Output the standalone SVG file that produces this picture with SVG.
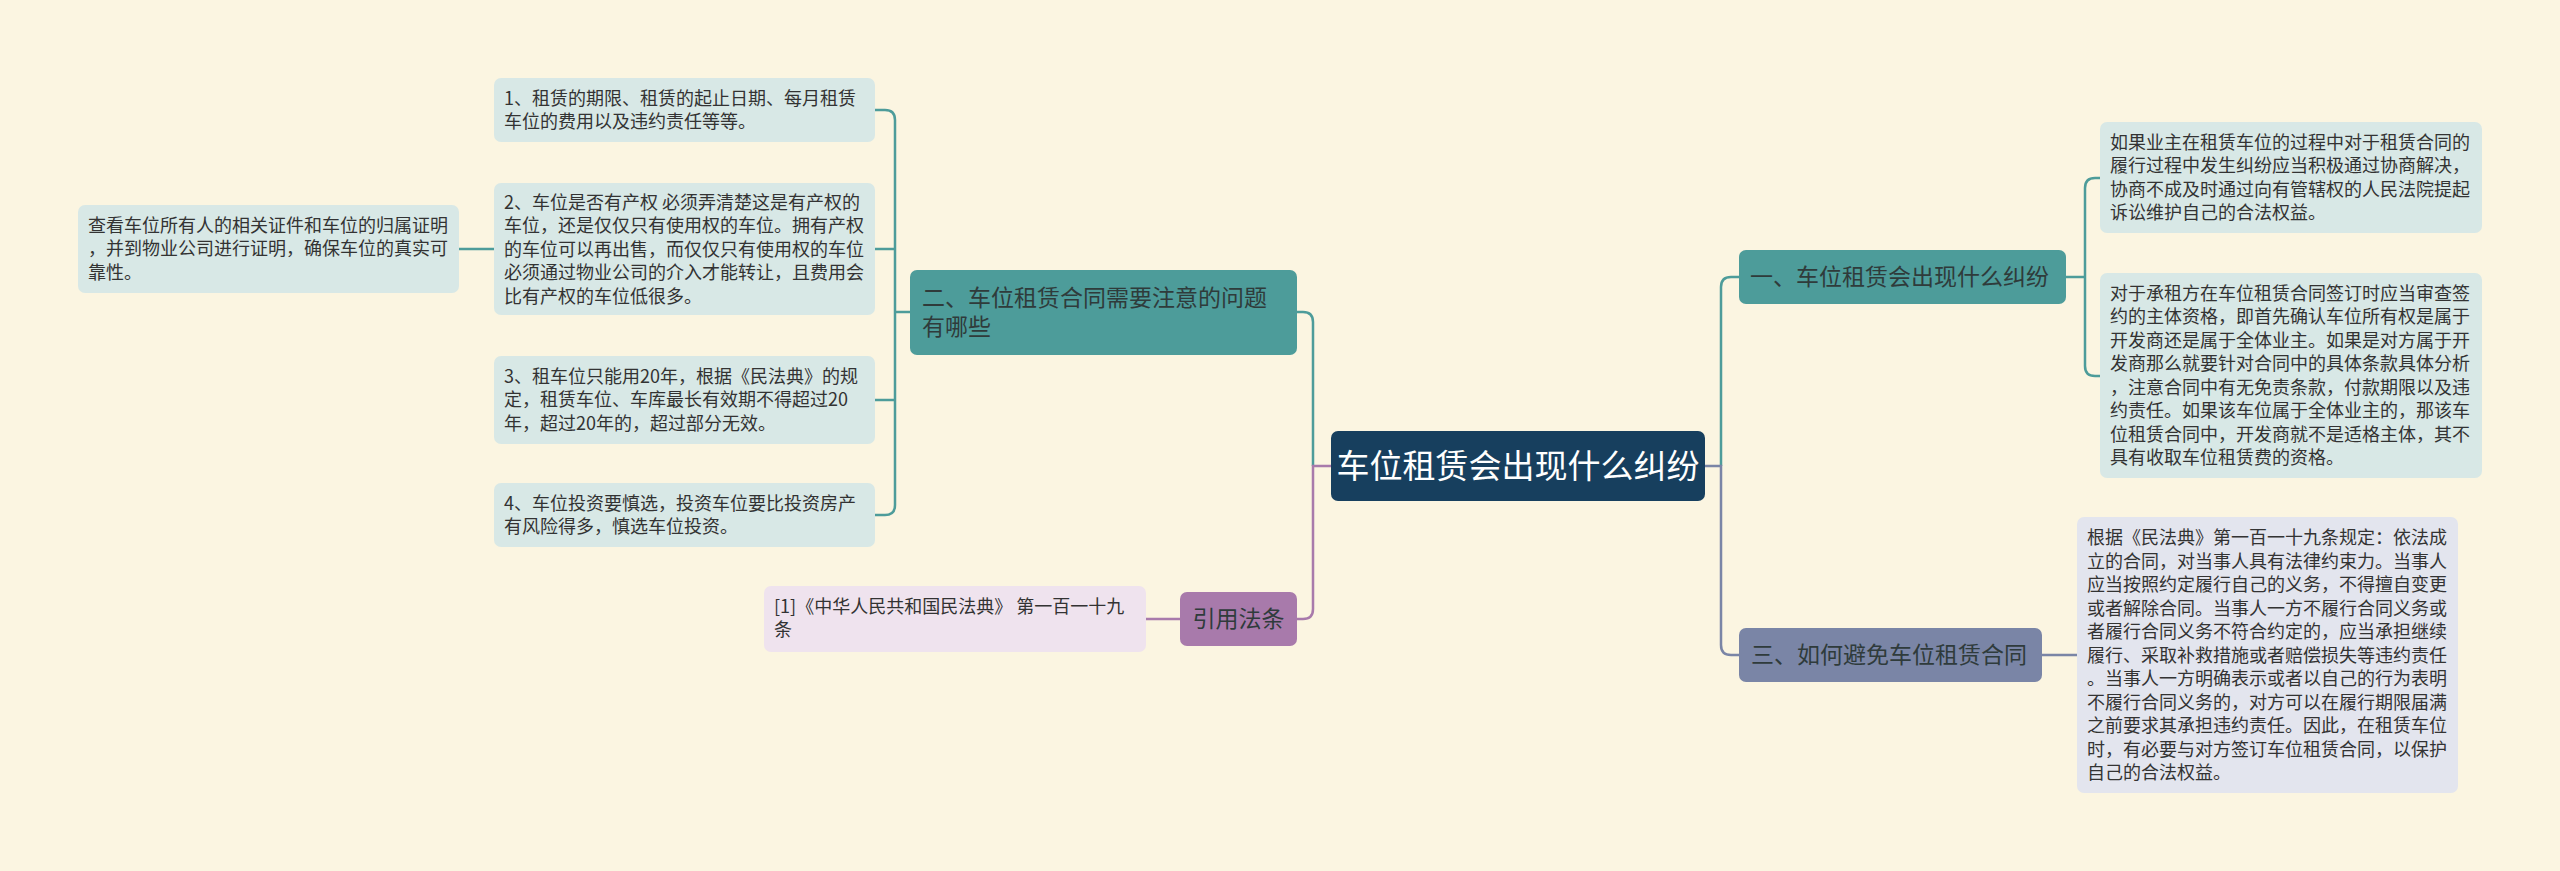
<svg xmlns="http://www.w3.org/2000/svg" width="2560" height="871" viewBox="0 0 2560 871">
<style>
text{font-family:"Noto Sans CJK SC","Noto Sans",sans-serif;white-space:pre;}
.leaf{font-size:18px;fill:#333333;}
.br{font-size:23px;fill:#2f3b3b;}
.root{font-size:33px;fill:#ffffff;}
.ct{fill:none;stroke:#4d9c9a;stroke-width:2.5;}
.cs{fill:none;stroke:#7a85a6;stroke-width:2.5;}
.cp{fill:none;stroke:#a87aab;stroke-width:2.5;}
.lt{fill:#d8e8e6;}
.ls{fill:#e3e5ee;}
.lp{fill:#efe3ee;}
</style>
<rect x="0" y="0" width="2560" height="871" fill="#fbf5e1"/>
<g id="connectors">
<path class="ct" d="M1721,466 V287 Q1721,277 1731,277 H1739"/>
<path class="cs" d="M1705,466 H1721 V645 Q1721,655 1731,655 H1739"/>
<path class="ct" d="M1313,466 V322 Q1313,312 1303,312 H1297"/>
<path class="cp" d="M1331,466 H1313 V609 Q1313,619 1303,619 H1297"/>
<path class="ct" d="M910,312 H895"/>
<path class="ct" d="M875,110 H885 Q895,110 895,120 V505 Q895,515 885,515 H875"/>
<path class="ct" d="M875,249 H895"/>
<path class="ct" d="M875,400 H895"/>
<path class="ct" d="M494,249 H459"/>
<path class="ct" d="M2066,277 H2085"/>
<path class="ct" d="M2100,178 H2095 Q2085,178 2085,188 V366 Q2085,376 2095,376 H2100"/>
<path class="cs" d="M2042,655 H2077"/>
<path class="cp" d="M1180,619 H1146"/>
</g>
<g id="root">
<rect x="1331" y="431" width="374" height="70" rx="7" fill="#173f5e"/>
<text class="root" x="1518" y="478" text-anchor="middle">车位租赁会出现什么纠纷</text>
</g>
<g id="branch1">
<rect x="1739" y="250" width="327" height="54" rx="7" fill="#4d9c9a"/>
<text class="br" x="1750" y="285">一、车位租赁会出现什么纠纷</text>
</g>
<g id="branch3">
<rect x="1739" y="628" width="303" height="54" rx="7" fill="#7a85a6"/>
<text class="br" x="1751" y="663">三、如何避免车位租赁合同</text>
</g>
<g id="branch2">
<rect x="910" y="270" width="387" height="85" rx="7" fill="#4d9c9a"/>
<text class="br" x="922" y="306">二、车位租赁合同需要注意的问题</text>
<text class="br" x="922" y="335">有哪些</text>
</g>
<g id="branch4">
<rect x="1180" y="592" width="117" height="54" rx="7" fill="#a87aab"/>
<text class="br" x="1238.5" y="627" text-anchor="middle">引用法条</text>
</g>
<g id="leaf-l1">
<rect class="lt" x="494" y="78" width="381" height="64" rx="7"/>
<text class="leaf" x="504" y="104.5">1、租赁的期限、租赁的起止日期、每月租赁</text>
<text class="leaf" x="504" y="128">车位的费用以及违约责任等等。</text>
</g>
<g id="leaf-l2">
<rect class="lt" x="494" y="183" width="381" height="132" rx="7"/>
<text class="leaf" x="504" y="208.5">2、车位是否有产权 必须弄清楚这是有产权的</text>
<text class="leaf" x="504" y="232">车位，还是仅仅只有使用权的车位。拥有产权</text>
<text class="leaf" x="504" y="255.5">的车位可以再出售，而仅仅只有使用权的车位</text>
<text class="leaf" x="504" y="279">必须通过物业公司的介入才能转让，且费用会</text>
<text class="leaf" x="504" y="302.5">比有产权的车位低很多。</text>
</g>
<g id="leaf-l2a">
<rect class="lt" x="78" y="205" width="381" height="88" rx="7"/>
<text class="leaf" x="88" y="231.8">查看车位所有人的相关证件和车位的归属证明</text>
<text class="leaf" x="88" y="255.3">，并到物业公司进行证明，确保车位的真实可</text>
<text class="leaf" x="88" y="278.8">靠性。</text>
</g>
<g id="leaf-l3">
<rect class="lt" x="494" y="356" width="381" height="88" rx="7"/>
<text class="leaf" x="504" y="382.8">3、租车位只能用20年，根据《民法典》的规</text>
<text class="leaf" x="504" y="406.3">定，租赁车位、车库最长有效期不得超过20</text>
<text class="leaf" x="504" y="429.8">年，超过20年的，超过部分无效。</text>
</g>
<g id="leaf-l4">
<rect class="lt" x="494" y="483" width="381" height="64" rx="7"/>
<text class="leaf" x="504" y="509.8">4、车位投资要慎选，投资车位要比投资房产</text>
<text class="leaf" x="504" y="533.3">有风险得多，慎选车位投资。</text>
</g>
<g id="leaf-ref">
<rect class="lp" x="764" y="586" width="382" height="66" rx="7"/>
<text class="leaf" x="774" y="612.8">[1]《中华人民共和国民法典》 第一百一十九</text>
<text class="leaf" x="774" y="636.3">条</text>
</g>
<g id="leaf-r1">
<rect class="lt" x="2100" y="122" width="382" height="111" rx="7"/>
<text class="leaf" x="2110" y="148.8">如果业主在租赁车位的过程中对于租赁合同的</text>
<text class="leaf" x="2110" y="172.3">履行过程中发生纠纷应当积极通过协商解决，</text>
<text class="leaf" x="2110" y="195.8">协商不成及时通过向有管辖权的人民法院提起</text>
<text class="leaf" x="2110" y="219.3">诉讼维护自己的合法权益。</text>
</g>
<g id="leaf-r2">
<rect class="lt" x="2100" y="273" width="382" height="205" rx="7"/>
<text class="leaf" x="2110" y="299.8">对于承租方在车位租赁合同签订时应当审查签</text>
<text class="leaf" x="2110" y="323.3">约的主体资格，即首先确认车位所有权是属于</text>
<text class="leaf" x="2110" y="346.8">开发商还是属于全体业主。如果是对方属于开</text>
<text class="leaf" x="2110" y="370.3">发商那么就要针对合同中的具体条款具体分析</text>
<text class="leaf" x="2110" y="393.8">，注意合同中有无免责条款，付款期限以及违</text>
<text class="leaf" x="2110" y="417.3">约责任。如果该车位属于全体业主的，那该车</text>
<text class="leaf" x="2110" y="440.8">位租赁合同中，开发商就不是适格主体，其不</text>
<text class="leaf" x="2110" y="464.3">具有收取车位租赁费的资格。</text>
</g>
<g id="leaf-r3">
<rect class="ls" x="2077" y="517" width="381" height="276" rx="7"/>
<text class="leaf" x="2087" y="544">根据《民法典》第一百一十九条规定：依法成</text>
<text class="leaf" x="2087" y="567.5">立的合同，对当事人具有法律约束力。当事人</text>
<text class="leaf" x="2087" y="591">应当按照约定履行自己的义务，不得擅自变更</text>
<text class="leaf" x="2087" y="614.5">或者解除合同。当事人一方不履行合同义务或</text>
<text class="leaf" x="2087" y="638">者履行合同义务不符合约定的，应当承担继续</text>
<text class="leaf" x="2087" y="661.5">履行、采取补救措施或者赔偿损失等违约责任</text>
<text class="leaf" x="2087" y="685">。当事人一方明确表示或者以自己的行为表明</text>
<text class="leaf" x="2087" y="708.5">不履行合同义务的，对方可以在履行期限届满</text>
<text class="leaf" x="2087" y="732">之前要求其承担违约责任。因此，在租赁车位</text>
<text class="leaf" x="2087" y="755.5">时，有必要与对方签订车位租赁合同，以保护</text>
<text class="leaf" x="2087" y="779">自己的合法权益。</text>
</g>
</svg>
